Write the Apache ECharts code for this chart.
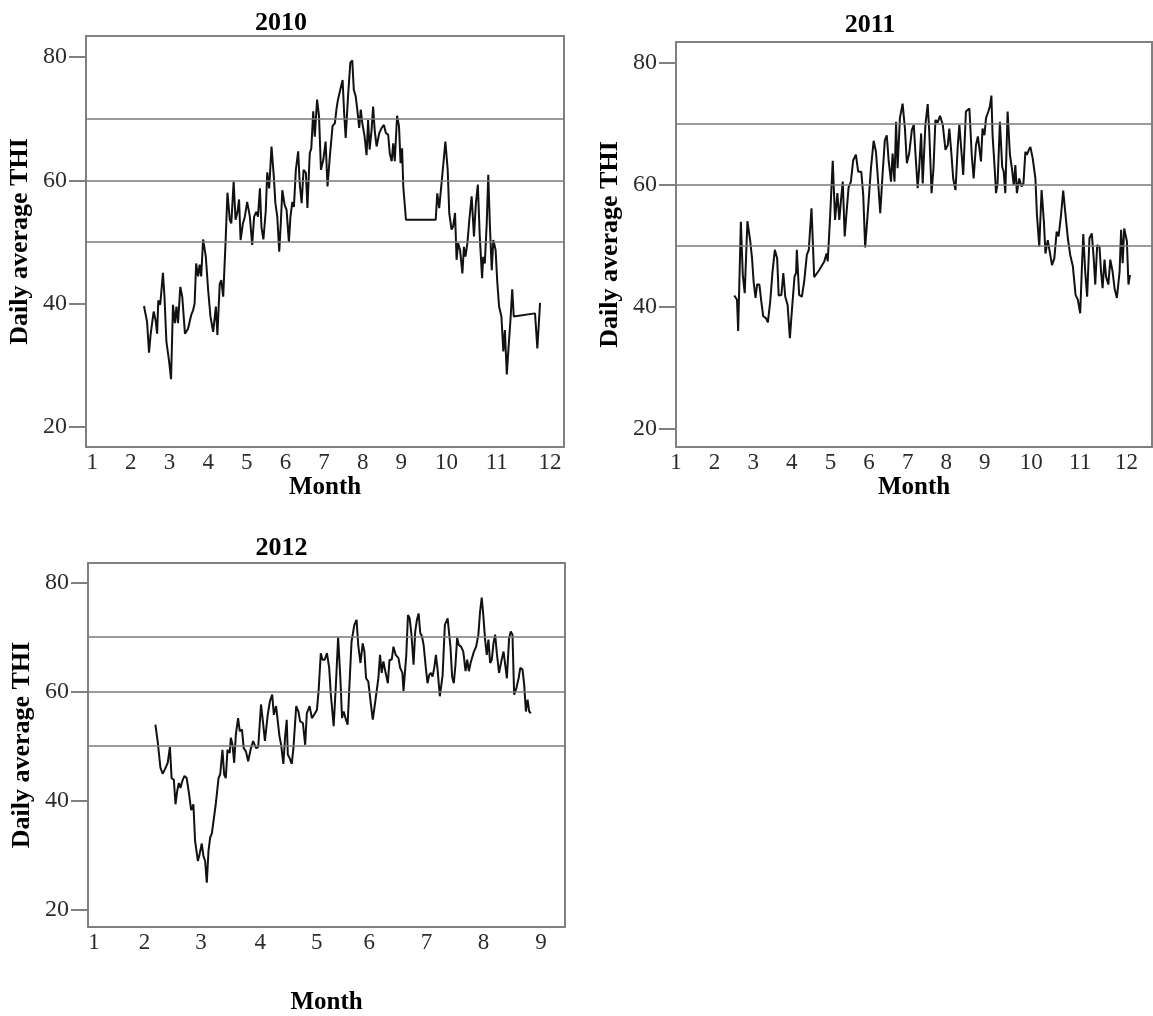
<!DOCTYPE html>
<html>
<head>
<meta charset="utf-8">
<script src="https://cdn.jsdelivr.net/npm/echarts@6/dist/echarts.min.js"></script>
<style>
html,body{margin:0;padding:0;background:#fff;}
#c{width:1153px;height:1016px;}
</style>
</head>
<body>
<div id="c"></div>
<script>
// ---- data: [month position, daily average THI] ----
const thi2010 = [[2.34,39.6],[2.42,37.0],[2.47,32.0],[2.51,34.9],[2.55,34.6],[2.59,38.7],[2.64,37.3],[2.68,35.1],[2.71,40.5],[2.76,39.8],
[2.83,45.0],[2.87,41.1],[2.92,33.8],[2.99,30.6],[3.04,27.7],[3.09,39.8],[3.14,36.8],[3.18,39.5],[3.22,36.8],[3.28,42.7],
[3.33,41.1],[3.40,35.1],[3.48,35.9],[3.56,38.1],[3.61,38.9],[3.65,40.0],[3.69,46.5],[3.74,44.4],[3.78,46.3],[3.82,44.4],
[3.87,50.4],[3.94,47.6],[4.00,42.2],[4.06,37.9],[4.13,35.4],[4.20,39.5],[4.24,34.9],[4.30,43.2],[4.34,43.8],[4.39,41.1],
[4.45,49.8],[4.50,58.0],[4.56,53.6],[4.60,53.0],[4.66,59.8],[4.71,53.6],[4.76,54.9],[4.80,56.9],[4.84,50.3],[4.90,53.0],
[4.95,54.1],[5.01,56.5],[5.08,54.1],[5.14,49.5],[5.19,54.1],[5.25,54.9],[5.29,54.1],[5.34,58.7],[5.38,52.4],[5.43,50.4],
[5.49,54.9],[5.53,61.3],[5.58,58.7],[5.64,65.5],[5.70,60.6],[5.74,56.3],[5.79,54.1],[5.84,48.4],[5.88,53.0],[5.92,58.4],
[5.98,56.0],[6.03,55.2],[6.09,50.0],[6.13,54.1],[6.18,56.5],[6.22,55.7],[6.27,61.7],[6.33,64.7],[6.37,59.5],[6.42,56.3],
[6.47,61.7],[6.53,61.2],[6.57,55.5],[6.63,64.4],[6.67,65.2],[6.72,71.2],[6.76,67.1],[6.82,73.1],[6.87,70.4],[6.92,61.7],
[6.98,63.3],[7.04,66.3],[7.09,59.0],[7.15,63.9],[7.22,68.8],[7.28,69.3],[7.32,71.5],[7.36,73.1],[7.42,74.7],[7.48,76.3],
[7.52,70.9],[7.56,66.9],[7.62,73.6],[7.68,79.1],[7.73,79.5],[7.77,74.7],[7.82,73.6],[7.86,71.5],[7.91,68.5],[7.95,71.5],
[7.99,69.3],[8.05,67.1],[8.10,64.1],[8.14,69.8],[8.18,65.0],[8.23,68.2],[8.27,72.0],[8.31,68.2],[8.36,65.5],[8.43,67.7],
[8.49,68.5],[8.55,69.0],[8.60,67.7],[8.66,67.4],[8.70,64.4],[8.75,63.1],[8.79,66.0],[8.83,63.1],[8.89,70.5],[8.94,68.8],
[8.98,62.8],[9.02,65.2],[9.05,59.0],[9.12,53.6],[9.89,53.6],[9.93,57.9],[9.98,55.5],[10.04,59.5],[10.08,62.2],[10.14,66.3],
[10.20,61.7],[10.24,54.7],[10.30,52.0],[10.34,52.5],[10.39,54.7],[10.43,47.1],[10.47,49.8],[10.52,48.7],[10.58,44.9],[10.62,49.2],
[10.66,47.6],[10.71,49.8],[10.76,53.6],[10.82,57.4],[10.88,50.9],[10.93,56.3],[10.98,59.3],[11.03,50.9],[11.09,44.1],[11.12,47.6],
[11.16,46.5],[11.21,53.0],[11.25,60.9],[11.29,53.0],[11.34,45.4],[11.38,50.3],[11.44,48.7],[11.48,43.8],[11.53,39.5],[11.59,37.9],
[11.64,32.2],[11.68,35.7],[11.73,28.5],[11.77,32.4],[11.83,37.9],[11.87,42.3],[11.91,37.9],[12.46,38.4],[12.52,32.7],[12.59,40.1]];

const thi2011 = [[2.51,41.8],[2.58,41.1],[2.61,36.0],[2.68,53.9],[2.73,45.2],[2.78,42.2],[2.85,54.0],[2.92,50.9],[2.97,47.9],[3.01,44.1],
[3.06,41.4],[3.10,43.6],[3.16,43.6],[3.21,40.8],[3.26,38.4],[3.33,38.1],[3.38,37.4],[3.44,40.8],[3.50,45.7],[3.56,49.3],
[3.62,47.9],[3.66,41.8],[3.73,41.9],[3.78,45.5],[3.83,41.6],[3.89,40.3],[3.95,34.8],[4.00,39.2],[4.07,44.9],[4.11,45.5],
[4.13,49.3],[4.19,41.9],[4.26,41.6],[4.32,44.1],[4.39,48.5],[4.44,49.3],[4.47,52.3],[4.51,56.1],[4.58,44.8],[4.71,46.0],
[4.84,47.4],[4.90,48.7],[4.93,47.4],[4.99,54.5],[5.06,63.9],[5.12,54.2],[5.18,58.6],[5.23,54.2],[5.27,57.2],[5.32,60.5],
[5.37,51.5],[5.42,55.6],[5.47,59.5],[5.53,60.5],[5.59,64.0],[5.66,64.9],[5.72,62.1],[5.80,62.1],[5.85,58.3],[5.90,49.7],
[5.97,55.6],[6.05,62.7],[6.12,67.2],[6.18,65.4],[6.22,61.9],[6.29,55.3],[6.35,61.6],[6.41,67.3],[6.46,68.1],[6.51,63.8],
[6.57,60.5],[6.61,65.1],[6.66,60.5],[6.70,70.3],[6.74,62.7],[6.80,70.9],[6.87,73.3],[6.93,69.2],[6.98,63.5],[7.04,65.1],
[7.11,69.0],[7.16,69.8],[7.20,65.4],[7.26,59.4],[7.30,62.7],[7.35,68.4],[7.39,60.2],[7.46,69.8],[7.52,73.2],[7.56,68.7],
[7.62,58.6],[7.67,62.7],[7.72,70.6],[7.78,70.2],[7.84,71.3],[7.91,69.8],[7.98,65.7],[8.04,66.5],[8.08,69.2],[8.13,65.4],
[8.18,61.0],[8.24,59.1],[8.30,66.5],[8.34,69.8],[8.40,64.9],[8.44,61.6],[8.51,72.0],[8.60,72.5],[8.66,64.9],[8.71,61.0],
[8.77,66.5],[8.82,67.9],[8.86,67.6],[8.90,63.8],[8.94,69.2],[8.99,68.1],[9.03,70.9],[9.09,72.0],[9.13,72.8],[9.17,74.6],
[9.20,68.1],[9.25,63.2],[9.29,58.6],[9.33,60.2],[9.39,70.3],[9.45,62.9],[9.49,62.1],[9.53,58.6],[9.59,72.0],[9.65,64.9],
[9.70,62.7],[9.75,59.9],[9.79,63.2],[9.83,58.6],[9.89,61.0],[9.95,59.7],[10.00,60.2],[10.05,65.4],[10.09,64.9],[10.14,65.7],
[10.18,66.2],[10.24,64.3],[10.31,61.0],[10.35,55.0],[10.41,49.8],[10.47,59.1],[10.53,53.9],[10.57,48.7],[10.63,50.9],[10.67,51.2],
[10.74,46.8],[10.80,47.9],[10.86,52.3],[10.91,51.5],[10.97,54.8],[11.03,59.0],[11.09,55.0],[11.15,51.2],[11.21,48.5],[11.28,46.6],
[11.35,41.9],[11.41,41.1],[11.47,38.9],[11.51,45.7],[11.55,51.9],[11.60,45.7],[11.65,41.6],[11.71,51.2],[11.77,52.0],[11.82,47.9],
[11.86,43.6],[11.91,50.1],[11.97,49.8],[12.01,45.7],[12.05,43.0],[12.10,47.7],[12.14,44.9],[12.20,43.6],[12.25,47.7],[12.31,45.7],
[12.36,43.0],[12.42,41.4],[12.49,45.7],[12.53,52.6],[12.57,47.1],[12.61,52.8],[12.68,50.7],[12.72,43.6],[12.76,45.2]];

const thi2012 = [[2.10,53.9],[2.14,50.9],[2.19,46.0],[2.23,44.9],[2.27,45.7],[2.32,46.9],[2.36,49.8],[2.39,44.1],[2.43,43.8],[2.46,39.3],
[2.49,41.7],[2.52,43.2],[2.55,42.3],[2.58,43.5],[2.62,44.5],[2.66,44.1],[2.70,41.4],[2.74,38.2],[2.78,39.3],[2.81,32.6],
[2.86,28.9],[2.89,30.1],[2.93,32.1],[2.96,29.8],[2.99,28.9],[3.02,24.9],[3.05,30.7],[3.08,33.2],[3.11,33.9],[3.14,33.9],
[3.18,39.3],[3.23,44.1],[3.26,44.8],[3.30,49.3],[3.33,44.8],[3.36,44.1],[3.39,49.3],[3.43,48.7],[3.45,51.5],[3.48,50.2],
[3.51,46.9],[3.54,52.1],[3.58,55.1],[3.61,52.7],[3.65,53.0],[3.68,49.6],[3.72,49.0],[3.76,47.2],[3.81,49.6],[3.85,50.9],
[3.90,49.6],[3.94,49.8],[3.99,57.6],[4.03,53.9],[4.06,50.9],[4.11,55.7],[4.15,58.2],[4.19,59.4],[4.22,55.7],[4.26,57.3],
[4.29,57.0],[4.32,51.8],[4.35,50.2],[4.39,46.7],[4.42,51.5],[4.45,54.8],[4.47,48.4],[4.50,47.8],[4.54,46.7],[4.57,49.6],
[4.62,57.3],[4.66,56.3],[4.69,54.5],[4.74,54.2],[4.78,50.2],[4.81,56.0],[4.86,57.3],[4.90,55.1],[4.94,55.7],[4.99,56.6],
[5.02,60.0],[5.06,67.0],[5.09,65.8],[5.13,65.8],[5.17,67.0],[5.21,64.3],[5.24,59.4],[5.29,53.6],[5.33,61.2],[5.37,69.9],
[5.41,62.4],[5.44,55.1],[5.47,56.3],[5.51,54.8],[5.54,53.9],[5.57,60.6],[5.61,69.1],[5.66,72.2],[5.70,73.1],[5.73,68.5],
[5.77,65.2],[5.81,68.8],[5.84,67.3],[5.87,62.4],[5.91,61.8],[5.95,58.2],[5.99,54.8],[6.02,57.0],[6.05,57.1],[6.09,62.4],
[6.12,66.7],[6.15,63.4],[6.18,65.5],[6.22,63.4],[6.26,61.5],[6.29,65.8],[6.33,65.8],[6.36,68.2],[6.40,66.7],[6.45,66.1],
[6.48,64.3],[6.52,63.4],[6.54,60.1],[6.59,66.7],[6.62,74.0],[6.65,73.4],[6.68,70.7],[6.72,64.9],[6.75,71.0],[6.78,73.1],
[6.81,74.3],[6.84,70.7],[6.87,70.1],[6.90,68.5],[6.94,64.3],[6.97,61.5],[7.00,63.0],[7.03,63.4],[7.06,62.7],[7.09,64.3],
[7.12,66.7],[7.15,64.0],[7.19,59.1],[7.24,63.0],[7.28,72.2],[7.33,73.4],[7.38,68.2],[7.41,62.7],[7.44,61.5],[7.47,64.9],
[7.50,69.8],[7.53,68.5],[7.57,68.2],[7.61,67.3],[7.65,63.7],[7.68,65.8],[7.71,63.7],[7.74,65.2],[7.76,65.2],[7.80,67.3],
[7.84,68.2],[7.88,70.4],[7.91,74.6],[7.94,77.2],[7.97,73.7],[8.00,69.5],[8.03,66.7],[8.06,69.5],[8.09,65.2],[8.12,65.8],
[8.15,68.8],[8.18,70.4],[8.21,67.0],[8.25,63.4],[8.29,65.5],[8.33,67.3],[8.36,64.9],[8.39,62.4],[8.43,69.8],[8.46,71.0],
[8.49,70.4],[8.52,59.4],[8.56,60.6],[8.60,62.4],[8.63,64.3],[8.67,64.0],[8.70,61.2],[8.73,56.3],[8.76,58.5],[8.79,56.3],[8.82,56.0]];

// ---- tick labels (positions on each panel's month scale) ----
const xTick2010 = [1,2,3,4,5,6,7,8,9,10.17,11.47,12.85];
const xTick2011 = [1,2,3,4,5,6,7,8,9,10.2,11.47,12.67];
const xTick2012 = [1,1.907,2.918,3.975,4.986,5.925,6.95,7.973,9];
const xText2010 = ['1','2','3','4','5','6','7','8','9','10','11','12'];
const xText2011 = ['1','2','3','4','5','6','7','8','9','10','11','12'];
const xText2012 = ['1','2','3','4','5','6','7','8','9'];
const yTicks = [20,40,60,80];
const refLines = [50,60,70];
const years = ['2010','2011','2012'];

const SERIF = "'Liberation Serif','Times New Roman',serif";
const GRAY = '#808080';

const grids = [
  {left:86, top:36, width:478, height:411, show:true, borderColor:GRAY, borderWidth:2},
  {left:676, top:42, width:476, height:405, show:true, borderColor:GRAY, borderWidth:2},
  {left:88, top:563, width:477, height:366, show:true, borderColor:GRAY, borderWidth:2}
];
const xRanges = [[0.839,13.21],[1,13.33],[0.894,9.43]];
const yRanges = [[16.7,83.44],[16.95,83.4],[16.79,83.54]];
const xTicks = [xTick2010, xTick2011, xTick2012];
const xTexts = [xText2010, xText2011, xText2012];
const xNameGaps = [22, 23, 63];
const datasets = [thi2010, thi2011, thi2012];

function fmt(ticks, texts){
  return function(v){
    for (let i=0;i<ticks.length;i++){ if (Math.abs(ticks[i]-v) < 1e-6) return texts[i]; }
    return '';
  };
}

const xAxis = [0,1,2].map(i => ({
  type:'value', gridIndex:i, min:xRanges[i][0], max:xRanges[i][1],
  name:'Month', nameLocation:'middle', nameGap:xNameGaps[i],
  nameTextStyle:{fontFamily:SERIF, fontWeight:'bold', fontSize:25, color:'#000'},
  axisLine:{show:false}, axisTick:{show:false}, splitLine:{show:false},
  axisLabel:{customValues:xTicks[i], formatter:fmt(xTicks[i], xTexts[i]),
    fontFamily:SERIF, fontSize:23, color:'#2b2b2b', margin:4}
}));

const yAxis = [0,1,2].map(i => ({
  type:'value', gridIndex:i, min:yRanges[i][0], max:yRanges[i][1],
  name:'Daily average THI', nameLocation:'middle', nameGap:53,
  nameTextStyle:{fontFamily:SERIF, fontWeight:'bold', fontSize:26, color:'#000'},
  axisLine:{show:false}, splitLine:{show:false},
  axisTick:{show:true, customValues:yTicks, length:17, lineStyle:{color:GRAY, width:2}},
  axisLabel:{customValues:yTicks, fontFamily:SERIF, fontSize:24, color:'#2b2b2b', margin:19}
}));

const series = [0,1,2].map(i => ({
  type:'line', xAxisIndex:i, yAxisIndex:i, data:datasets[i],
  symbol:'none', showSymbol:false, silent:true,
  lineStyle:{color:'#111', width:2}, emphasis:{disabled:true},
  markLine:{silent:true, symbol:['none','none'], label:{show:false},
    lineStyle:{color:'#7a7a7a', width:1.6, type:'solid'}, emphasis:{disabled:true},
    data: refLines.map(v => ({yAxis:v}))}
}));

const titlePos = [[281,23],[870,25],[281.5,548]];
const graphic = years.map((t,i) => ({
  type:'text', x:titlePos[i][0], y:titlePos[i][1],
  style:{text:t, fontFamily:SERIF, fontWeight:'bold', fontSize:26, fill:'#000',
    textAlign:'center', textVerticalAlign:'middle'}
}));

const chart = echarts.init(document.getElementById('c'), null, {renderer:'canvas'});
chart.setOption({
  animation:false,
  backgroundColor:'#fff',
  grid:grids, xAxis:xAxis, yAxis:yAxis, series:series, graphic:graphic
});
</script>
</body>
</html>
